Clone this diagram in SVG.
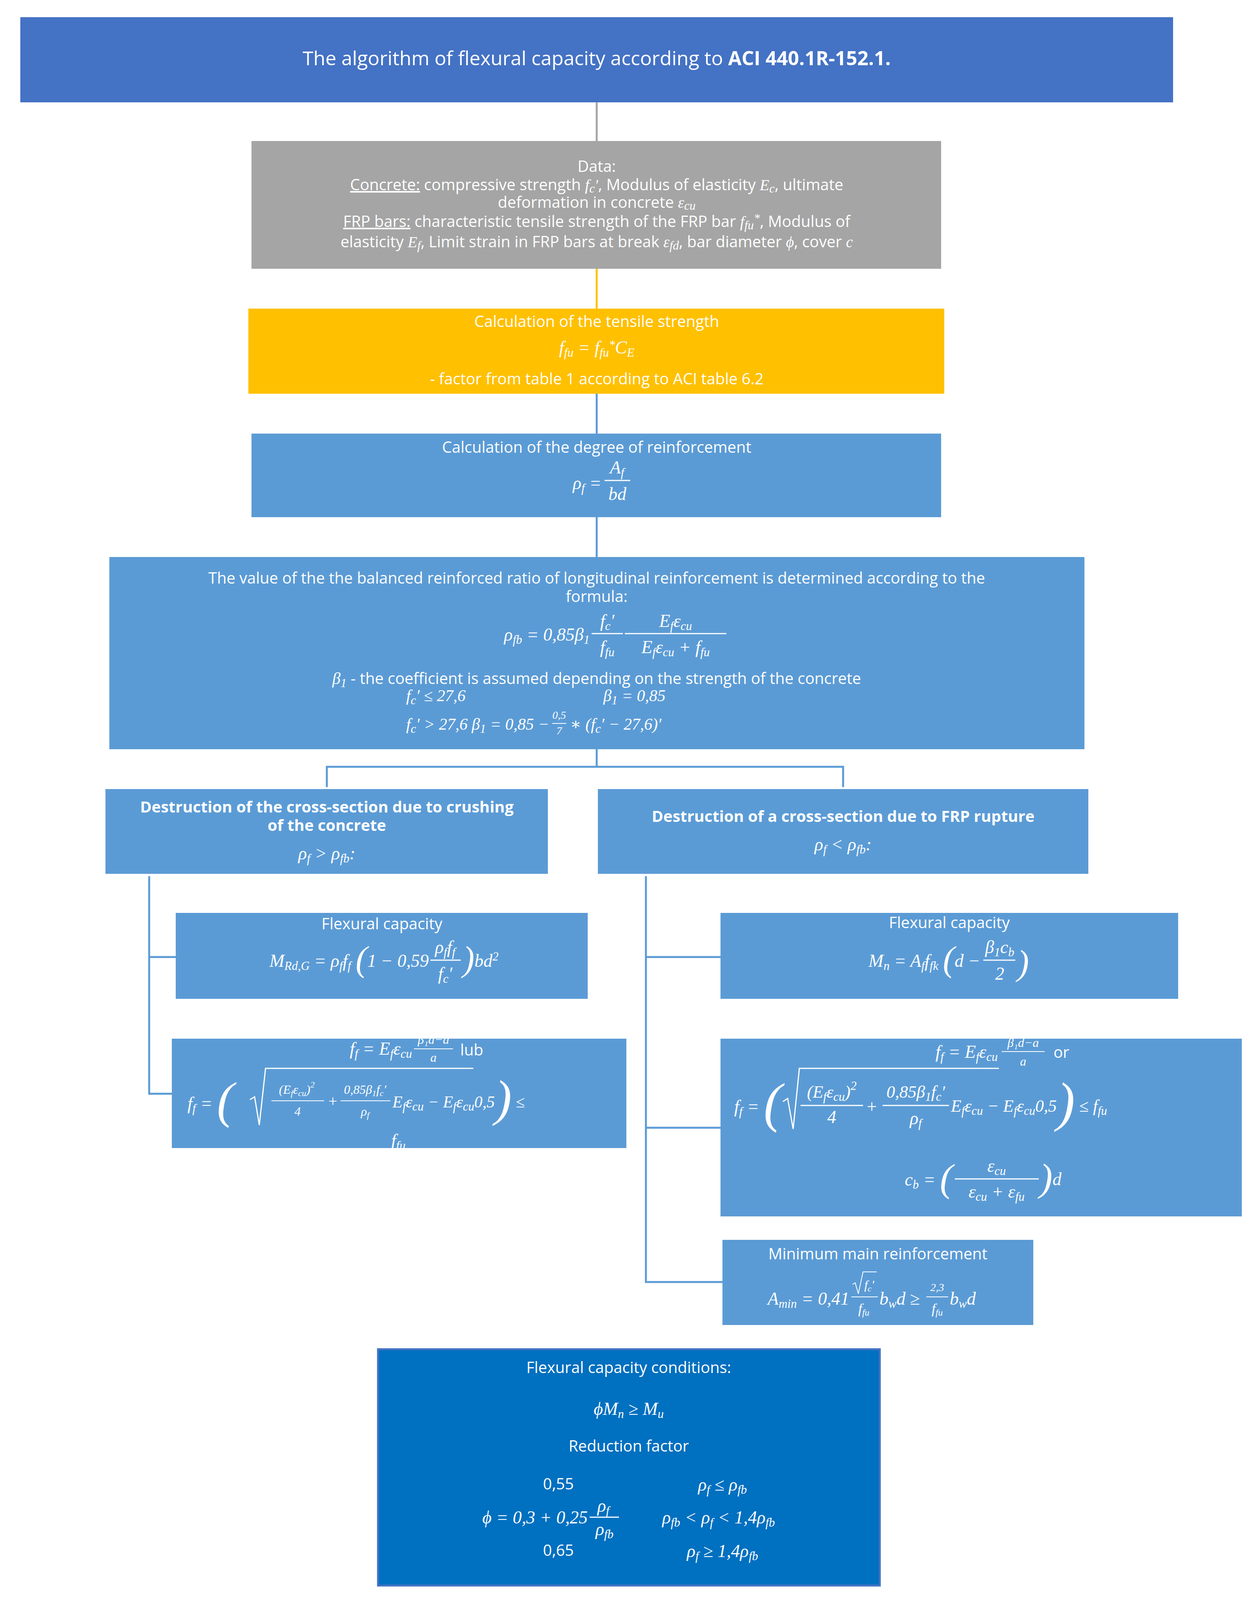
<svg xmlns="http://www.w3.org/2000/svg" width="3224" height="4108" viewBox="0 0 3224 4108">
<style>
.t{font-family:"Open Sans","Liberation Sans",sans-serif;font-size:40px;fill:#fff;text-anchor:middle}
.b{font-weight:bold}
.m{font-family:"Liberation Serif","DejaVu Serif",serif;font-style:italic;font-size:46px;fill:#fff;text-anchor:middle}
.e{text-anchor:end}
.st{text-anchor:start}
.s{font-size:31px}
.fl{stroke:#fff;stroke-width:3}
.c{fill:none;stroke-width:5}
</style>
<rect width="3224" height="4108" fill="#fff"/>
<g id="connectors">
<line class="c" x1="1528" y1="262" x2="1528" y2="361" stroke="#A5A5A5"/>
<line class="c" x1="1528" y1="688" x2="1528" y2="790" stroke="#FFC000"/>
<g stroke="#5B9BD5" class="c">
<line x1="1528" y1="1008" x2="1528" y2="1110"/>
<line x1="1528" y1="1324" x2="1528" y2="1426"/>
<polyline points="1528,1918 1528,1963"/>
<polyline points="837,2015 837,1963 2159,1963 2159,2015"/>
<polyline points="382,2243 382,2800 440,2800"/>
<line x1="382" y1="2450" x2="450" y2="2450"/>
<polyline points="1654,2243 1654,3282 1850,3282"/>
<line x1="1654" y1="2450" x2="1845" y2="2450"/>
<line x1="1654" y1="2887" x2="1845" y2="2887"/>
</g>
</g>
<g id="title">
<rect x="52" y="44" width="2952" height="218" fill="#4472C4"/>
<text class="t" x="1528" y="167" style="font-size:50px">The algorithm of flexural capacity according to <tspan class="b">ACI 440.1R-152.1.</tspan></text>
</g>
<g id="data">
<rect x="644" y="361" width="1766" height="327" fill="#A5A5A5"/>
<text class="t" x="1528" y="440">Data:</text>
<text class="t" x="1528" y="487"><tspan text-decoration="underline">Concrete:</tspan> compressive strength <tspan class="m" style="font-size:40px">f<tspan dy="6" class="s">c</tspan><tspan dy="-6">′</tspan></tspan>, Modulus of elasticity <tspan class="m" style="font-size:40px">E<tspan dy="6" class="s">c</tspan></tspan><tspan dy="-6">, ultimate</tspan></text>
<text class="t" x="1528" y="532">deformation in concrete <tspan class="m" style="font-size:40px">ε<tspan dy="5" class="s">cu</tspan></tspan></text>
<text class="t" x="1528" y="581"><tspan text-decoration="underline">FRP bars:</tspan> characteristic tensile strength of the FRP bar <tspan class="m" style="font-size:40px">f<tspan dy="6" class="s">fu</tspan><tspan dy="-18" class="s">*</tspan></tspan><tspan dy="12">, Modulus of</tspan></text>
<text class="t" x="1528" y="633">elasticity <tspan class="m" style="font-size:40px">E<tspan dy="6" class="s">f</tspan></tspan><tspan dy="-6">,  Limit strain in FRP bars at break </tspan><tspan class="m" style="font-size:40px">ε<tspan dy="6" class="s">fd</tspan></tspan><tspan dy="-6">, bar diameter </tspan><tspan class="m" style="font-size:40px">ϕ</tspan>, cover <tspan class="m" style="font-size:40px">c</tspan></text>
</g>
<g id="tensile">
<rect x="636" y="790" width="1782" height="218" fill="#FFC000"/>
<text class="t" x="1528" y="837">Calculation of the tensile strength</text>
<text class="m" x="1528" y="905">f<tspan dy="8" class="s">fu</tspan><tspan dy="-8"> = f</tspan><tspan dy="8" class="s">fu</tspan><tspan dy="-20" class="s">*</tspan><tspan dy="12">C</tspan><tspan dy="8" class="s">E</tspan></text>
<text class="t" x="1528" y="984">- factor from table 1 according to ACI table 6.2</text>
</g>
<g id="degree">
<rect x="644" y="1110" width="1766" height="214" fill="#5B9BD5"/>
<text class="t" x="1528" y="1159">Calculation of the degree of reinforcement</text>
<text class="m e" x="1540" y="1252">ρ<tspan dy="8" class="s">f</tspan><tspan dy="-8"> =</tspan></text>
<text class="m" x="1580" y="1212">A<tspan dy="8" class="s">f</tspan></text>
<line class="fl" x1="1548" y1="1230" x2="1614" y2="1230"/>
<text class="m" x="1581" y="1280">bd</text>
</g>
<g id="balanced">
<rect x="280" y="1426" width="2497" height="492" fill="#5B9BD5"/>
<text class="t" x="1528" y="1494">The value of the the balanced reinforced ratio of longitudinal reinforcement  is determined according to the</text>
<text class="t" x="1528" y="1541">formula:</text>
<text class="m e" x="1510" y="1640">ρ<tspan dy="8" class="s">fb</tspan><tspan dy="-8"> = 0,85β</tspan><tspan dy="8" class="s">1</tspan></text>
<text class="m" x="1555" y="1605">f<tspan dy="8" class="s">c</tspan><tspan dy="-8">′</tspan></text>
<line class="fl" x1="1515" y1="1622" x2="1595" y2="1622"/>
<text class="m" x="1555" y="1672">f<tspan dy="8" class="s">fu</tspan></text>
<text class="m" x="1730" y="1605">E<tspan dy="8" class="s">f</tspan><tspan dy="-8">ε</tspan><tspan dy="8" class="s">cu</tspan></text>
<line class="fl" x1="1600" y1="1622" x2="1860" y2="1622"/>
<text class="m" x="1730" y="1672">E<tspan dy="8" class="s">f</tspan><tspan dy="-8">ε</tspan><tspan dy="8" class="s">cu</tspan><tspan dy="-8"> + f</tspan><tspan dy="8" class="s">fu</tspan></text>
<text class="t" x="1528" y="1751"><tspan class="m" style="font-size:42px">β<tspan dy="8" class="s">1</tspan></tspan><tspan dy="-8"> - the coefficient is assumed depending on the strength of the concrete</tspan></text>
<text class="m st" x="1040" y="1795" style="font-size:42px">f<tspan dy="8" class="s">c</tspan><tspan dy="-8">′ ≤ 27,6</tspan></text>
<text class="m st" x="1545" y="1795" style="font-size:42px">β<tspan dy="8" class="s">1</tspan><tspan dy="-8"> = 0,85</tspan></text>
<text class="m st" x="1040" y="1868" style="font-size:42px">f<tspan dy="8" class="s">c</tspan><tspan dy="-8">′ &gt; 27,6    β</tspan><tspan dy="8" class="s">1</tspan><tspan dy="-8"> = 0,85 −</tspan></text>
<text class="m" x="1432" y="1840" style="font-size:28px">0,5</text>
<line class="fl" x1="1414" y1="1852" x2="1450" y2="1852" style="stroke-width:2"/>
<text class="m" x="1432" y="1880" style="font-size:28px">7</text>
<text class="m st" x="1460" y="1868" style="font-size:42px">∗ (f<tspan dy="8" class="s">c</tspan><tspan dy="-8">′ − 27,6)′</tspan></text>
</g>
<g id="crushing">
<rect x="270" y="2020" width="1133" height="217" fill="#5B9BD5"/>
<text class="t b" x="837" y="2080">Destruction of the cross-section due to crushing</text>
<text class="t b" x="837" y="2127">of the concrete</text>
<text class="m" x="837" y="2200">ρ<tspan dy="8" class="s">f</tspan><tspan dy="-8"> &gt; ρ</tspan><tspan dy="8" class="s">fb</tspan><tspan dy="-8">:</tspan></text>
</g>
<g id="rupture">
<rect x="1531" y="2020" width="1256" height="217" fill="#5B9BD5"/>
<text class="t b" x="2159" y="2104">Destruction of a cross-section due to FRP rupture</text>
<text class="m" x="2159" y="2177">ρ<tspan dy="8" class="s">f</tspan><tspan dy="-8"> &lt; ρ</tspan><tspan dy="8" class="s">fb</tspan><tspan dy="-8">:</tspan></text>
</g>
<g id="flex-left">
<rect x="450" y="2337" width="1055" height="220" fill="#5B9BD5"/>
<text class="t" x="978" y="2379">Flexural capacity</text>
<text class="m e" x="1098" y="2475">M<tspan dy="8" class="s">Rd,G</tspan><tspan dy="-8"> = ρ</tspan><tspan dy="8" class="s">f</tspan><tspan dy="-8">f</tspan><tspan dy="8" class="s">f</tspan><tspan dy="-8"> </tspan><tspan style="font-size:90px" dy="10">(</tspan><tspan dy="-10">1 − 0,59</tspan></text>
<text class="m" x="1140" y="2440">ρ<tspan dy="8" class="s">f</tspan><tspan dy="-8">f</tspan><tspan dy="8" class="s">f</tspan></text>
<line class="fl" x1="1102" y1="2458" x2="1180" y2="2458"/>
<text class="m" x="1140" y="2508">f<tspan dy="8" class="s">c</tspan><tspan dy="-8">′</tspan></text>
<text class="m st" x="1185" y="2485"><tspan style="font-size:90px">)</tspan><tspan dy="-10">bd</tspan><tspan dy="-16" class="s">2</tspan></text>
</g>
<g id="ff-left">
<rect x="440" y="2659" width="1164" height="280" fill="#5B9BD5"/>
<text class="m e" x="1055" y="2700">f<tspan dy="8" class="s">f</tspan><tspan dy="-8"> = E</tspan><tspan dy="8" class="s">f</tspan><tspan dy="-8">ε</tspan><tspan dy="8" class="s">cu</tspan></text>
<text class="m" x="1110" y="2672" style="font-size:32px">β₁d−a</text>
<line class="fl" x1="1060" y1="2685" x2="1160" y2="2685" style="stroke-width:2"/>
<text class="m" x="1110" y="2718" style="font-size:32px">a</text>
<text class="t" x="1208" y="2702">lub</text>
<text class="m st" x="480" y="2840">f<tspan dy="8" class="s">f</tspan><tspan dy="-8"> = </tspan><tspan style="font-size:130px" dy="20">(</tspan></text>
<polyline points="640,2815 652,2808 664,2880 680,2735 1212,2735" fill="none" stroke="#fff" stroke-width="3"/>
<text class="m" x="760" y="2800" style="font-size:32px">(E<tspan dy="6" style="font-size:22px">f</tspan><tspan dy="-6">ε</tspan><tspan dy="6" style="font-size:22px">cu</tspan><tspan dy="-6">)</tspan><tspan dy="-16" style="font-size:22px">2</tspan></text>
<line class="fl" x1="695" y1="2818" x2="830" y2="2818" style="stroke-width:2"/>
<text class="m" x="762" y="2856" style="font-size:32px">4</text>
<text class="m" x="852" y="2832" style="font-size:40px">+</text>
<text class="m" x="935" y="2800" style="font-size:32px">0,85β<tspan dy="6" style="font-size:22px">1</tspan><tspan dy="-6">f</tspan><tspan dy="6" style="font-size:22px">c</tspan><tspan dy="-6">′</tspan></text>
<line class="fl" x1="872" y1="2818" x2="1000" y2="2818" style="stroke-width:2"/>
<text class="m" x="935" y="2856" style="font-size:32px">ρ<tspan dy="6" style="font-size:22px">f</tspan></text>
<text class="m st" x="1005" y="2835" style="font-size:42px">E<tspan dy="8" class="s">f</tspan><tspan dy="-8">ε</tspan><tspan dy="8" class="s">cu</tspan><tspan dy="-8"> − E</tspan><tspan dy="8" class="s">f</tspan><tspan dy="-8">ε</tspan><tspan dy="8" class="s">cu</tspan><tspan dy="-8">0,5</tspan><tspan style="font-size:130px" dy="20">)</tspan><tspan dy="-20"> ≤</tspan></text>
<text class="m" x="1020" y="2935">f<tspan dy="8" class="s">fu</tspan></text>
</g>
<g id="flex-right">
<rect x="1845" y="2337" width="1172" height="220" fill="#5B9BD5"/>
<text class="t" x="2431" y="2376">Flexural capacity</text>
<text class="m e" x="2510" y="2475">M<tspan dy="8" class="s">n</tspan><tspan dy="-8"> = A</tspan><tspan dy="8" class="s">f</tspan><tspan dy="-8">f</tspan><tspan dy="8" class="s">fk</tspan><tspan dy="-8"> </tspan><tspan style="font-size:90px" dy="10">(</tspan><tspan dy="-10">d −</tspan></text>
<text class="m" x="2560" y="2440">β<tspan dy="8" class="s">1</tspan><tspan dy="-8">c</tspan><tspan dy="8" class="s">b</tspan></text>
<line class="fl" x1="2518" y1="2458" x2="2600" y2="2458"/>
<text class="m" x="2560" y="2508">2</text>
<text class="m st" x="2605" y="2495" style="font-size:90px">)</text>
</g>
<g id="ff-right">
<rect x="1845" y="2659" width="1335" height="455" fill="#5B9BD5"/>
<text class="m e" x="2555" y="2708">f<tspan dy="8" class="s">f</tspan><tspan dy="-8"> = E</tspan><tspan dy="8" class="s">f</tspan><tspan dy="-8">ε</tspan><tspan dy="8" class="s">cu</tspan></text>
<text class="m" x="2620" y="2680" style="font-size:32px">β₁d−a</text>
<line class="fl" x1="2565" y1="2692" x2="2675" y2="2692" style="stroke-width:2"/>
<text class="m" x="2620" y="2728" style="font-size:32px">a</text>
<text class="t" x="2718" y="2708">or</text>
<text class="m st" x="1880" y="2848">f<tspan dy="8" class="s">f</tspan><tspan dy="-8"> = </tspan><tspan style="font-size:140px" dy="22">(</tspan></text>
<polyline points="2005,2820 2017,2812 2031,2890 2047,2735 2558,2735" fill="none" stroke="#fff" stroke-width="3"/>
<text class="m" x="2130" y="2810" style="font-size:44px">(E<tspan dy="8" class="s">f</tspan><tspan dy="-8">ε</tspan><tspan dy="8" class="s">cu</tspan><tspan dy="-8">)</tspan><tspan dy="-20" class="s">2</tspan></text>
<line class="fl" x1="2050" y1="2830" x2="2210" y2="2830"/>
<text class="m" x="2130" y="2875">4</text>
<text class="m" x="2232" y="2848">+</text>
<text class="m" x="2345" y="2810" style="font-size:44px">0,85β<tspan dy="8" class="s">1</tspan><tspan dy="-8">f</tspan><tspan dy="8" class="s">c</tspan><tspan dy="-8">′</tspan></text>
<line class="fl" x1="2260" y1="2830" x2="2430" y2="2830"/>
<text class="m" x="2345" y="2878">ρ<tspan dy="8" class="s">f</tspan></text>
<text class="m st" x="2435" y="2846" style="font-size:44px">E<tspan dy="8" class="s">f</tspan><tspan dy="-8">ε</tspan><tspan dy="8" class="s">cu</tspan><tspan dy="-8"> − E</tspan><tspan dy="8" class="s">f</tspan><tspan dy="-8">ε</tspan><tspan dy="8" class="s">cu</tspan><tspan dy="-8">0,5</tspan><tspan style="font-size:140px" dy="22">)</tspan><tspan dy="-22"> ≤ f</tspan><tspan dy="8" class="s">fu</tspan></text>
<text class="m e" x="2440" y="3035">c<tspan dy="8" class="s">b</tspan><tspan dy="-8"> = </tspan><tspan style="font-size:100px" dy="14">(</tspan></text>
<text class="m" x="2552" y="3000">ε<tspan dy="8" class="s">cu</tspan></text>
<line class="fl" x1="2445" y1="3018" x2="2660" y2="3018"/>
<text class="m" x="2552" y="3066">ε<tspan dy="8" class="s">cu</tspan><tspan dy="-8"> + ε</tspan><tspan dy="8" class="s">fu</tspan></text>
<text class="m st" x="2662" y="3048"><tspan style="font-size:100px">)</tspan><tspan dy="-14">d</tspan></text>
</g>
<g id="minimum">
<rect x="1850" y="3174" width="796" height="218" fill="#5B9BD5"/>
<text class="t" x="2248" y="3224">Minimum main reinforcement</text>
<text class="m e" x="2175" y="3340">A<tspan dy="8" class="s">min</tspan><tspan dy="-8"> = 0,41</tspan></text>
<polyline points="2183,3288 2190,3284 2198,3312 2210,3256 2245,3256" fill="none" stroke="#fff" stroke-width="2"/>
<text class="m" x="2226" y="3300" style="font-size:32px">f<tspan dy="6" style="font-size:22px">c</tspan><tspan dy="-6">′</tspan></text>
<line class="fl" x1="2180" y1="3320" x2="2248" y2="3320" style="stroke-width:2"/>
<text class="m" x="2212" y="3362" style="font-size:36px">f<tspan dy="6" style="font-size:24px">fu</tspan></text>
<text class="m st" x="2252" y="3340">b<tspan dy="8" class="s">w</tspan><tspan dy="-8">d ≥</tspan></text>
<text class="m" x="2400" y="3305" style="font-size:28px">2,3</text>
<line class="fl" x1="2372" y1="3320" x2="2428" y2="3320" style="stroke-width:2"/>
<text class="m" x="2400" y="3362" style="font-size:36px">f<tspan dy="6" style="font-size:24px">fu</tspan></text>
<text class="m st" x="2432" y="3340">b<tspan dy="8" class="s">w</tspan><tspan dy="-8">d</tspan></text>
</g>
<g id="conditions">
<rect x="968" y="3454" width="1285" height="605" fill="#0070C0" stroke="#4472C4" stroke-width="5"/>
<text class="t" x="1610" y="3515">Flexural capacity conditions:</text>
<text class="m" x="1610" y="3622">ϕM<tspan dy="8" class="s">n</tspan><tspan dy="-8"> ≥ M</tspan><tspan dy="8" class="s">u</tspan></text>
<text class="t" x="1610" y="3716">Reduction factor</text>
<text class="t" x="1430" y="3813">0,55</text>
<text class="m" x="1850" y="3816">ρ<tspan dy="8" class="s">f</tspan><tspan dy="-8"> ≤ ρ</tspan><tspan dy="8" class="s">fb</tspan></text>
<text class="m e" x="1505" y="3900">ϕ = 0,3 + 0,25</text>
<text class="m" x="1545" y="3870">ρ<tspan dy="8" class="s">f</tspan></text>
<line class="fl" x1="1510" y1="3884" x2="1585" y2="3884"/>
<text class="m" x="1548" y="3930">ρ<tspan dy="8" class="s">fb</tspan></text>
<text class="m" x="1840" y="3900">ρ<tspan dy="8" class="s">fb</tspan><tspan dy="-8"> &lt; ρ</tspan><tspan dy="8" class="s">f</tspan><tspan dy="-8"> &lt; 1,4ρ</tspan><tspan dy="8" class="s">fb</tspan></text>
<text class="t" x="1430" y="3983">0,65</text>
<text class="m" x="1850" y="3986">ρ<tspan dy="8" class="s">f</tspan><tspan dy="-8"> ≥ 1,4ρ</tspan><tspan dy="8" class="s">fb</tspan></text>
</g>
</svg>
